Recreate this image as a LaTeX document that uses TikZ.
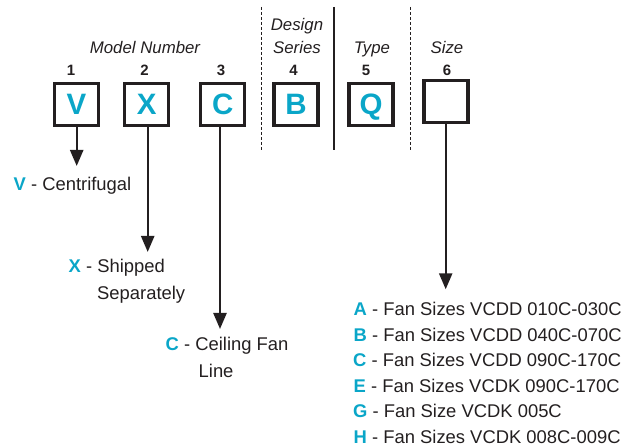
\documentclass[tikz,border=0pt]{standalone}
\usepackage{fontspec}
\setmainfont{Liberation Sans}
\usetikzlibrary{arrows.meta}
\definecolor{codecyan}{RGB}{10,166,200}
\definecolor{ink}{RGB}{35,31,32}
\begin{document}
\begin{tikzpicture}[x=1pt,y=-1pt,
  codebox/.style={draw=ink, line width=3.2pt, minimum width=44pt, minimum height=42pt, inner sep=0pt,
    text height=20.8pt, text depth=0pt, font=\fontsize{29.5}{29.5}\selectfont\bfseries, text=codecyan},
  posnum/.style={anchor=base, inner sep=0pt, font=\fontsize{15}{15}\selectfont\bfseries, text=ink},
  heading/.style={anchor=base, inner sep=0pt, font=\fontsize{16.8}{19}\selectfont\itshape, text=ink},
  desc/.style={anchor=base west, inner sep=0pt, font=\fontsize{18.4}{22}\selectfont, text=ink},
  pointer/.style={draw=ink, line width=2.4pt, -{Triangle[length=16pt,width=13pt]}},
  dashdiv/.style={draw=ink, line width=0.9pt, dash pattern=on 3pt off 2pt},
  soliddiv/.style={draw=ink, line width=1.6pt}
]
\useasboundingbox (0,0) rectangle (632,446);
\newcommand{\cy}[1]{\textcolor{codecyan}{\bfseries #1}}

% dividers
\coordinate (d1t) at (261,7);   \coordinate (d1b) at (261,150);
\coordinate (d2t) at (334,7);   \coordinate (d2b) at (334,150);
\coordinate (d3t) at (410,7);   \coordinate (d3b) at (410,150);
\draw[dashdiv] (d1t) -- (d1b);
\draw[soliddiv] (d2t) -- (d2b);
\draw[dashdiv] (d3t) -- (d3b);

% headings
\node[heading] (hmodel) at (145,53.3) {Model Number};
\node[heading] (hdesign) at (297,31) {Design};
\node[heading] (hseries) at (297,53.3) {Series};
\node[heading] (htype) at (372,53.3) {Type};
\node[heading] (hsize) at (447,53.3) {Size};

% position numbers
\node[posnum] (n1) at (71,75.8) {1};
\node[posnum] (n2) at (144.5,75.8) {2};
\node[posnum] (n3) at (221,75.8) {3};
\node[posnum] (n4) at (293.5,75.8) {4};
\node[posnum] (n5) at (366,75.8) {5};
\node[posnum] (n6) at (447,75.8) {6};

% code boxes
\node[codebox] (bV) at (76.5,104.2) {V};
\node[codebox] (bX) at (146.7,104.2) {X};
\node[codebox] (bC) at (222.7,104.2) {C};
\node[codebox] (bB) at (296,104.2) {B};
\node[codebox] (bQ) at (371,104.2) {Q};
\node[codebox] (bS) at (446,101.7) {};

% arrow tips
\coordinate (tV) at (76.7,166);
\coordinate (tX) at (147.7,252);
\coordinate (tC) at (220,329);
\coordinate (tS) at (445.7,289.3);
\draw[pointer] (bV.south -| tV) -- (tV);
\draw[pointer] (bX.south -| tX) -- (tX);
\draw[pointer] (bC.south -| tC) -- (tC);
\draw[pointer] (bS.south -| tS) -- (tS);

% descriptions
\node[desc] (lV) at (13.5,190.5) {\cy{V} - Centrifugal};
\node[desc] (lX) at (68.5,272.7) {\cy{X} - Shipped};
\node[desc] (lX2) at (97,299.3) {Separately};
\node[desc] (lC) at (165.5,351) {\cy{C} - Ceiling Fan};
\node[desc] (lC2) at (198.5,377.3) {Line};

% size list
\node[desc] (sA) at (353.5,316) {\cy{A} - Fan Sizes VCDD 010C-030C};
\node[desc] (sB) at (353.5,341.5) {\cy{B} - Fan Sizes VCDD 040C-070C};
\node[desc] (sC) at (353,366.8) {\cy{C} - Fan Sizes VCDD 090C-170C};
\node[desc] (sE) at (353.5,392.3) {\cy{E} - Fan Sizes VCDK 090C-170C};
\node[desc] (sG) at (353,417.8) {\cy{G} - Fan Size VCDK 005C};
\node[desc] (sH) at (353.5,443.3) {\cy{H} - Fan Sizes VCDK 008C-009C};
\end{tikzpicture}
\end{document}
